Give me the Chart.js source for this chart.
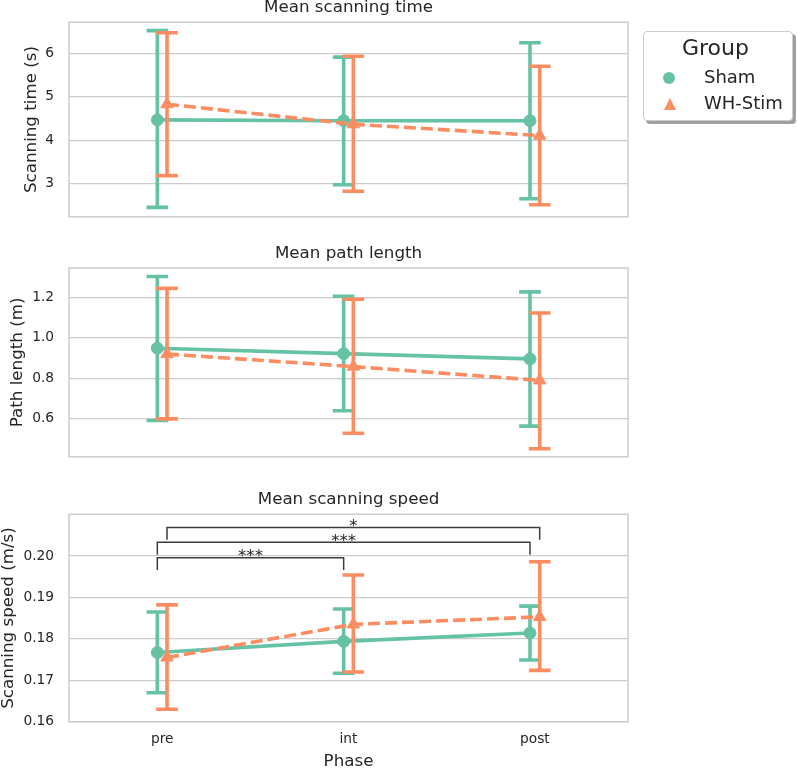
<!DOCTYPE html>
<html>
<head>
<meta charset="utf-8">
<script src="https://cdn.jsdelivr.net/npm/chart.js@4.4.1/dist/chart.umd.min.js"></script>
<style>
  body { margin: 0; background: #fff; overflow: hidden; font-family: "DejaVu Sans", sans-serif; }
  #page { position: relative; width: 797px; height: 768px; }
  canvas { position: absolute; left: 0; }
  #legend { position: absolute; left: 643px; top: 31px; width: 148px; height: 88px;
            border: 1px solid #cccccc; border-radius: 4px; background: #fff;
            box-shadow: 3px 3px 0 #a0a0a0; }
  #legend div { position: absolute; line-height: 1; color: #262626; white-space: nowrap; }
  #legend .ttl { font-size: 22px; left: 38px; top: 4.5px; }
  #legend .lbl { font-size: 18px; left: 60px; }
</style>
</head>
<body>
<div id="page">
  <canvas id="c1" width="797" height="241" style="top:-1px;width:797px;height:241px"></canvas>
  <canvas id="c2" width="797" height="240" style="top:240px;width:797px;height:240px"></canvas>
  <canvas id="c3" width="797" height="290" style="top:480px;width:797px;height:290px"></canvas>
  <div id="legend"></div>
</div>
<script>
// categories and groups
const phases = ['pre', 'int', 'post'];
const groups = ['Sham', 'WH-Stim'];
const colors = ['#66c2a5', '#fc8d62'];

// mean scanning time (s) with error bar limits
const timeSham = [4.47, 4.45, 4.45];
const timeShamLo = [2.46, 2.98, 2.66];
const timeShamHi = [6.52, 5.91, 6.24];
const timeStim = [4.83, 4.37, 4.11];
const timeStimLo = [3.19, 2.83, 2.52];
const timeStimHi = [6.47, 5.93, 5.70];
const timeTicks = [3, 4, 5, 6];

// mean path length (m)
const pathSham = [0.949, 0.922, 0.896];
const pathShamLo = [0.591, 0.639, 0.563];
const pathShamHi = [1.304, 1.206, 1.228];
const pathStim = [0.920, 0.858, 0.790];
const pathStimLo = [0.599, 0.528, 0.451];
const pathStimHi = [1.245, 1.191, 1.123];
const pathTicks = [0.6, 0.8, 1.0, 1.2];

// mean scanning speed (m/s)
const speedSham = [0.1767, 0.1794, 0.1814];
const speedShamLo = [0.1670, 0.1717, 0.1749];
const speedShamHi = [0.1865, 0.1872, 0.1879];
const speedStim = [0.1755, 0.1835, 0.1853];
const speedStimLo = [0.1630, 0.1720, 0.1724];
const speedStimHi = [0.1882, 0.1954, 0.1986];
const speedTicks = [0.16, 0.17, 0.18, 0.19, 0.20];

// significance brackets (speed panel)
const sigFrom = [0, 0, 0];
const sigTo = [1, 2, 2];
const sigGroup = [0, 0, 1];
const sigLevel = [0.1996, 0.2033, 0.2069];
const sigText = ['***', '***', '*'];
const sigLeg = 0.003;

const dodge = 0.026;
const capHalf = 0.058;
const LW = 3.6;
const FONT = '"DejaVu Sans"';
const TXT = '#262626';
const GRID = '#cccccc';

Chart.defaults.font.family = FONT;
Chart.defaults.color = TXT;

const errorBars = {
  id: 'errorBars',
  beforeDatasetDraw(chart, args) {
    const ds = chart.data.datasets[args.index];
    const {ctx, scales: {x, y}} = chart;
    ctx.save();
    ctx.strokeStyle = ds.borderColor;
    ctx.lineWidth = LW;
    ds.data.forEach((p, i) => {
      const px = x.getPixelForValue(p.x);
      const cap = x.getPixelForValue(p.x + capHalf) - px;
      const lo = y.getPixelForValue(ds.errLo[i]);
      const hi = y.getPixelForValue(ds.errHi[i]);
      ctx.beginPath();
      ctx.moveTo(px, lo); ctx.lineTo(px, hi);
      ctx.moveTo(px - cap, lo); ctx.lineTo(px + cap, lo);
      ctx.moveTo(px - cap, hi); ctx.lineTo(px + cap, hi);
      ctx.stroke();
    });
    ctx.restore();
  }
};

const frame = {
  id: 'frame',
  beforeDatasetsDraw(chart) {
    const {ctx, chartArea: a} = chart;
    ctx.save();
    ctx.strokeStyle = GRID;
    ctx.lineWidth = 1.5;
    ctx.strokeRect(a.left, a.top, a.right - a.left, a.bottom - a.top);
    ctx.restore();
  }
};

const sigBrackets = {
  id: 'sigBrackets',
  afterDatasetsDraw(chart) {
    const {ctx, scales: {x, y}} = chart;
    ctx.save();
    ctx.strokeStyle = '#3d3d3d';
    ctx.lineWidth = 1.5;
    ctx.fillStyle = TXT;
    ctx.font = '16.7px ' + FONT;
    ctx.textAlign = 'center';
    ctx.textBaseline = 'alphabetic';
    sigText.forEach((t, k) => {
      const off = sigGroup[k] === 0 ? -dodge : dodge;
      const x1 = x.getPixelForValue(sigFrom[k] + off);
      const x2 = x.getPixelForValue(sigTo[k] + off);
      const yl = y.getPixelForValue(sigLevel[k]);
      const yb = y.getPixelForValue(sigLevel[k] - sigLeg);
      ctx.beginPath();
      ctx.moveTo(x1, yb); ctx.lineTo(x1, yl); ctx.lineTo(x2, yl); ctx.lineTo(x2, yb);
      ctx.stroke();
      ctx.fillText(t, (x1 + x2) / 2, yl + 3.3);
    });
    ctx.restore();
  }
};

function makePanel(id, p) {
  const series = [
    {mean: p.sham, lo: p.shamLo, hi: p.shamHi},
    {mean: p.stim, lo: p.stimLo, hi: p.stimHi}
  ];
  const datasets = series.map((s, g) => ({
    label: groups[g],
    data: s.mean.map((v, i) => ({x: i + (g === 0 ? -dodge : dodge), y: v})),
    errLo: s.lo,
    errHi: s.hi,
    borderColor: colors[g],
    backgroundColor: colors[g],
    borderWidth: LW,
    borderDash: g === 0 ? [] : [12, 5],
    pointStyle: g === 0 ? 'circle' : 'triangle',
    pointRadius: g === 0 ? 6 : 7.2,
    pointBorderWidth: 1,
    tension: 0,
    order: 2 - g
  }));
  const plugins = [frame, errorBars];
  if (p.brackets) plugins.push(sigBrackets);

  return new Chart(document.getElementById(id), {
    type: 'line',
    data: {datasets},
    plugins,
    options: {
      responsive: false,
      animation: false,
      layout: {padding: {left: p.padLeft, right: 169, top: p.padTop, bottom: p.padBottom}},
      plugins: {
        legend: {display: false},
        tooltip: {enabled: false},
        title: {
          display: true,
          text: p.title,
          fullSize: false,
          color: TXT,
          font: {size: 16.7, weight: 'normal', lineHeight: 1},
          padding: {top: 0, bottom: p.titleGap}
        }
      },
      scales: {
        x: {
          type: 'linear',
          min: -0.5,
          max: 2.5,
          display: p.showX,
          afterBuildTicks: s => { s.ticks = phases.map((c, i) => ({value: i})); },
          afterFit: s => { if (p.showX) s.height = p.xHeight; },
          grid: {display: false, drawTicks: false},
          border: {display: false},
          ticks: {
            padding: 9,
            color: TXT,
            font: {size: 13.75},
            callback: v => phases[v]
          },
          title: {
            display: true,
            text: 'Phase',
            color: TXT,
            font: {size: 16.7, lineHeight: 1},
            padding: 0
          }
        },
        y: {
          min: p.min,
          max: p.max,
          afterBuildTicks: s => { s.ticks = p.ticks.map(v => ({value: v})); },
          afterFit: s => { s.width = 69 - p.padLeft; },
          grid: {color: GRID, lineWidth: 1.25, drawTicks: false},
          border: {display: false},
          ticks: {
            padding: 15,
            color: TXT,
            font: {size: 13.75},
            callback: v => p.fmt(v)
          },
          title: {
            display: true,
            text: p.yLabel,
            color: TXT,
            font: {size: 16.7, lineHeight: 1},
            padding: 0
          }
        }
      }
    }
  });
}

makePanel('c1', {
  title: 'Mean scanning time', yLabel: 'Scanning time (s)',
  sham: timeSham, shamLo: timeShamLo, shamHi: timeShamHi,
  stim: timeStim, stimLo: timeStimLo, stimHi: timeStimHi,
  ticks: timeTicks, min: 2.245, max: 6.712, fmt: v => v.toFixed(0),
  padLeft: 23.65, padTop: 0.15, titleGap: 6.15, padBottom: 11, showX: false
});

makePanel('c2', {
  title: 'Mean path length', yLabel: 'Path length (m)',
  sham: pathSham, shamLo: pathShamLo, shamHi: pathShamHi,
  stim: pathStim, stimLo: pathStimLo, stimHi: pathStimHi,
  ticks: pathTicks, min: 0.4115, max: 1.346, fmt: v => v.toFixed(1),
  padLeft: 9.65, padTop: 5.05, titleGap: 6.25, padBottom: 5.3, showX: false
});

makePanel('c3', {
  title: 'Mean scanning speed', yLabel: 'Scanning speed (m/s)',
  sham: speedSham, shamLo: speedShamLo, shamHi: speedShamHi,
  stim: speedStim, stimLo: speedStimLo, stimHi: speedStimHi,
  ticks: speedTicks, min: 0.16, max: 0.21007, fmt: v => v.toFixed(2),
  padLeft: 0, padTop: 11.15, titleGap: 6.45, padBottom: 0, showX: true, xHeight: 48.3,
  brackets: true
});

// legend
const legend = document.getElementById('legend');
const ttl = document.createElement('div');
ttl.className = 'ttl';
ttl.textContent = 'Group';
legend.appendChild(ttl);
groups.forEach((g, i) => {
  const top = i === 0 ? 36.1 : 62.1;
  const lbl = document.createElement('div');
  lbl.className = 'lbl';
  lbl.style.top = top + 'px';
  lbl.textContent = g;
  legend.appendChild(lbl);
  const mk = document.createElement('div');
  if (i === 0) {
    Object.assign(mk.style, {left: '19.3px', top: '40.3px', width: '12px', height: '12px',
      borderRadius: '50%', background: colors[i]});
  } else {
    Object.assign(mk.style, {left: '19.7px', top: '66px', width: '0', height: '0',
      borderLeft: '6.5px solid transparent', borderRight: '6.5px solid transparent',
      borderBottom: '12px solid ' + colors[i]});
  }
  legend.appendChild(mk);
});
</script>
</body>
</html>
